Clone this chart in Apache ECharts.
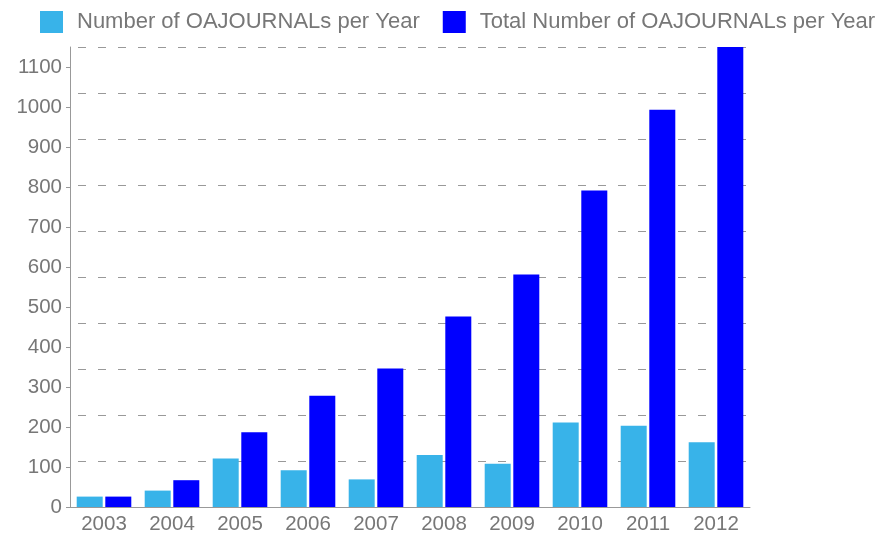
<!DOCTYPE html>
<html>
<head>
<meta charset="utf-8">
<script src="https://cdn.jsdelivr.net/npm/echarts@6/dist/echarts.min.js"></script>
<style>html,body{margin:0;padding:0;background:#fff}#c{width:881px;height:535px}</style>
</head>
<body>
<div id="c"></div>
<script>
const years = ['2003','2004','2005','2006','2007','2008','2009','2010','2011','2012'];
const perYear = [26, 41, 121, 92, 69, 130, 108, 211, 203, 162];
const totalPerYear = [26, 67, 187, 278, 346, 476, 581, 791, 993, 1155];
const yTicks = [0,100,200,300,400,500,600,700,800,900,1000,1100];
const seriesNames = ['Number of OAJOURNALs per Year', 'Total Number of OAJOURNALs per Year'];

const chart = echarts.init(document.getElementById('c'), null, {renderer: 'canvas'});
const font = 'Liberation Sans, Arial, Helvetica, sans-serif';
chart.setOption({
  animation: false,
  backgroundColor: '#fff',
  color: ['#38b3e9', '#0000ff'],
  legend: {
    left: 40, top: 11, padding: 0,
    itemWidth: 23, itemHeight: 22, itemGap: 23,
    icon: 'rect',
    textStyle: {fontFamily: font, fontSize: 22, color: '#777', padding: [0,0,0,9]},
    data: seriesNames
  },
  grid: {left: 70, right: 131, top: 47, bottom: 28},
  xAxis: {
    type: 'category', data: years,
    axisLine: {lineStyle: {color: '#999', width: 1}},
    axisTick: {alignWithLabel: true, length: 4, lineStyle: {color: '#999'}},
    axisLabel: {fontFamily: font, fontSize: 20.5, color: '#777', margin: 7}
  },
  yAxis: [{
    type: 'value', min: 0, max: 1150, interval: 115,
    axisLine: {show: true, lineStyle: {color: '#999', width: 1}},
    axisTick: {show: true, length: 4, lineStyle: {color: '#999'}, customValues: yTicks},
    axisLabel: {fontFamily: font, fontSize: 20.5, color: '#777', margin: 8, customValues: yTicks,
      formatter: v => String(v)},
    splitLine: {show: false}
  }, {
    type: 'value', min: 0, max: 1150, interval: 115, position: 'left',
    axisLine: {show: false}, axisTick: {show: false}, axisLabel: {show: false},
    splitLine: {show: true, lineStyle: {color: '#999', type: [8, 12], dashOffset: 12, width: 1}}
  }],
  series: [
    {name: seriesNames[0], type: 'bar', data: perYear, barWidth: 26, barGap: '10%'},
    {name: seriesNames[1], type: 'bar', data: totalPerYear, barWidth: 26, barGap: '10%'}
  ]
});
</script>
</body>
</html>
